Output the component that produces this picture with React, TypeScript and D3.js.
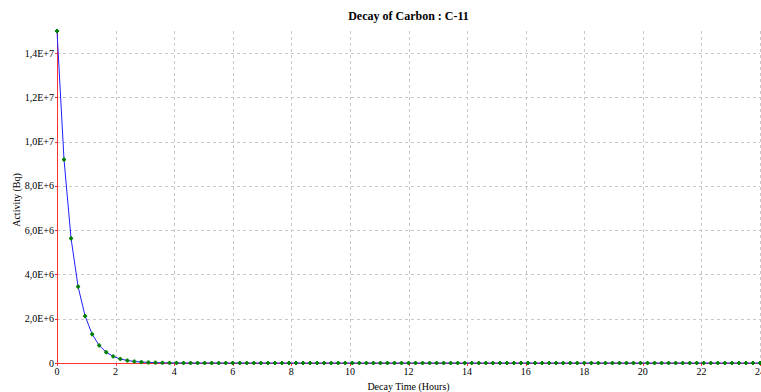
import React from "react";
import * as d3 from "d3";

const title = "Decay of Carbon : C-11";
const xLabel = "Decay Time (Hours)";
const yLabel = "Activity (Bq)";
const xTicks = [0, 2, 4, 6, 8, 10, 12, 14, 16, 18, 20, 22, 24];
const yTicks = [0, 2e6, 4e6, 6e6, 8e6, 1e7, 1.2e7, 1.4e7];
const yTickLabels = ["0", "2,0E+6", "4,0E+6", "6,0E+6", "8,0E+6", "1,0E+7", "1,2E+7", "1,4E+7"];
const timeStep = 0.24;
const activity = [
  15000000, 9190000, 5630000, 3450000, 2120000, 1300000, 795000, 487000, 298000, 183000,
  112000, 68700, 42100, 25800, 15800, 9690, 5940, 3640, 2230, 1370,
  838, 514, 315, 193, 118, 72, 44, 27, 17, 10,
  6, 4, 2, 1, 1, 0, 0, 0, 0, 0,
  0, 0, 0, 0, 0, 0, 0, 0, 0, 0,
  0, 0, 0, 0, 0, 0, 0, 0, 0, 0,
  0, 0, 0, 0, 0, 0, 0, 0, 0, 0,
  0, 0, 0, 0, 0, 0, 0, 0, 0, 0,
  0, 0, 0, 0, 0, 0, 0, 0, 0, 0,
  0, 0, 0, 0, 0, 0, 0, 0, 0, 0,
  0,
];

const W = 761;
const H = 392;
const left = 57;
const right = 760;
const top = 31;
const bottom = 363;

export default function App() {
  const x = d3.scaleLinear().domain([0, 24]).range([left, right]);
  const y = d3.scaleLinear().domain([0, 1.5e7]).range([bottom, top]);
  const pts = activity.map((v, i) => [i * timeStep, v] as [number, number]);
  const line = d3
    .line<[number, number]>()
    .x((d) => x(d[0]))
    .y((d) => y(d[1]))(pts);
  const font = "'Liberation Serif', 'Times New Roman', serif";
  return (
    <svg
      width={W}
      height={H}
      style={{ position: "absolute", left: 0, top: 0, background: "#fff" }}
      fontFamily={font}
    >
      <rect x={0} y={0} width={W} height={H} fill="#fff" />
      {xTicks.slice(1).map((t) => (
        <line
          key={"gx" + t}
          x1={Math.round(x(t)) + 0.5}
          x2={Math.round(x(t)) + 0.5}
          y1={top}
          y2={bottom}
          stroke="#c8c8c8"
          strokeDasharray="3,3"
        />
      ))}
      {yTicks.slice(1).map((t) => (
        <line
          key={"gy" + t}
          x1={left}
          x2={right}
          y1={Math.round(y(t)) + 0.5}
          y2={Math.round(y(t)) + 0.5}
          stroke="#c8c8c8"
          strokeDasharray="3,3"
        />
      ))}
      <line x1={left + 0.5} x2={left + 0.5} y1={top} y2={bottom + 1} stroke="#ff3030" />
      <line x1={left} x2={right + 1} y1={bottom + 0.5} y2={bottom + 0.5} stroke="#ff3030" />
      {xTicks.map((t) => (
        <line
          key={"tx" + t}
          x1={Math.round(x(t)) + 0.5}
          x2={Math.round(x(t)) + 0.5}
          y1={bottom}
          y2={bottom + 3}
          stroke="#ff3030"
        />
      ))}
      {yTicks.map((t) => (
        <line
          key={"ty" + t}
          x1={left - 2}
          x2={left}
          y1={Math.round(y(t)) + 0.5}
          y2={Math.round(y(t)) + 0.5}
          stroke="#ff3030"
        />
      ))}
      {xTicks.map((t) => (
        <text key={"lx" + t} x={x(t)} y={bottom + 12} fontSize={10} textAnchor="middle" fill="#000">
          {t}
        </text>
      ))}
      {yTicks.map((t, i) => (
        <text
          key={"ly" + t}
          x={left - 3}
          y={y(t) + 3.5}
          fontSize={10}
          textAnchor="end"
          fill="#000"
        >
          {yTickLabels[i]}
        </text>
      ))}
      <path d={line || ""} fill="none" stroke="#2020ff" strokeWidth={1} />
      {pts.map((d, i) => (
        <g key={"p" + i} fill="#008000">
          <rect x={x(d[0]) - 2} y={y(d[1]) - 1} width={4} height={2} />
          <rect x={x(d[0]) - 1} y={y(d[1]) - 2} width={2} height={4} />
        </g>
      ))}
      <text x={(left + right) / 2} y={20} fontSize={12} fontWeight="bold" textAnchor="middle" fill="#000">
        {title}
      </text>
      <text x={(left + right) / 2} y={390} fontSize={10} textAnchor="middle" fill="#000">
        {xLabel}
      </text>
      <text
        transform={`translate(20, 200) rotate(-90)`}
        fontSize={10}
        textAnchor="middle"
        fill="#000"
      >
        {yLabel}
      </text>
    </svg>
  );
}
